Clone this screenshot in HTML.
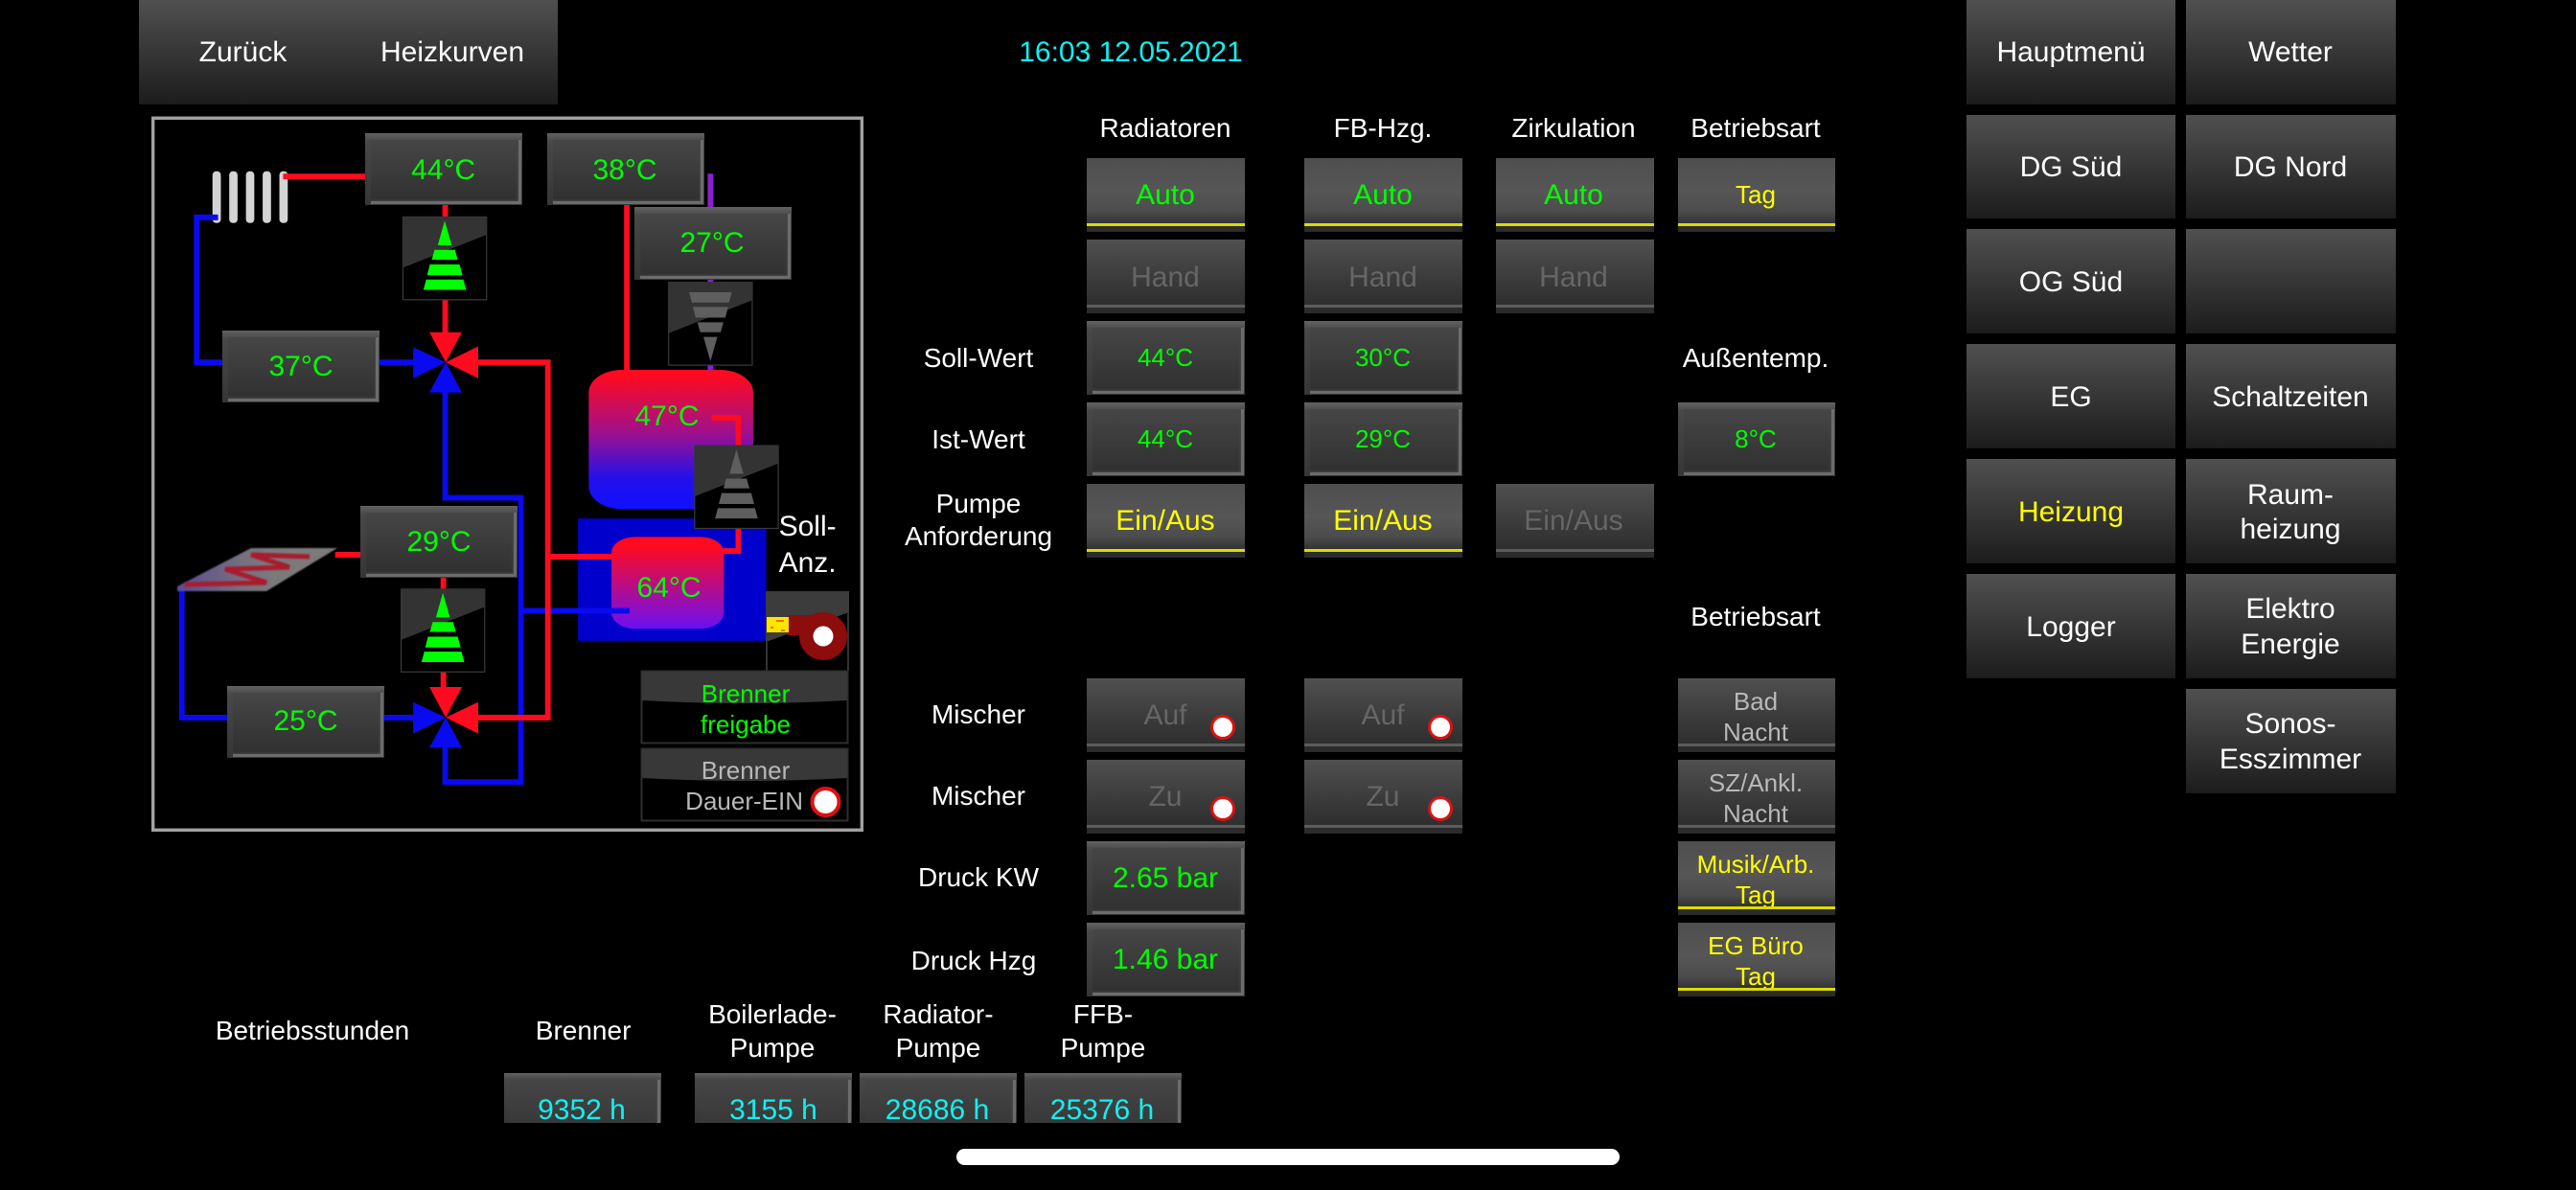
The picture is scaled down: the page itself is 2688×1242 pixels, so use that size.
<!DOCTYPE html>
<html lang="de">
<head>
<meta charset="utf-8">
<title>Heizung</title>
<style>
html,body{margin:0;padding:0;background:#000;width:2688px;height:1242px;overflow:hidden}
#p{position:relative;width:2688px;height:1242px;background:#000;overflow:hidden}
#p>div{position:absolute;box-sizing:border-box}
#p>svg{position:absolute;left:0;top:0}
.m{background:linear-gradient(#505050,#1c1c1c)}
.a,.i{width:165px;height:77px}
.a{background:linear-gradient(#4e4e4e 0,#565656 45%,#4c4c4c 72%,#343434 88%)}
.i{background:linear-gradient(#505050,#3c3c3c 50%,#2e2e2e 90%)}
.a:after,.i:after{content:"";position:absolute;left:0;right:0;top:69px;height:8px;background:#2b2b2b}
.a:before,.i:before{content:"";position:absolute;left:0;right:0;top:68px;height:3px;z-index:1}
.a:before{background:#dcdc00}
.i:before{background:#5c5c5c}
.w{background:linear-gradient(#626262,#484848 12%,#363636);overflow:hidden}
.w:before{content:"";position:absolute;left:6px;top:7px;right:1px;bottom:1px;background:linear-gradient(#464646,#303030);border-right:3px solid #6c6c6c;border-bottom:3px solid #6c6c6c;box-sizing:border-box;box-shadow:inset -1px -1px 2px #484848}
.s{width:164px;height:75px}
.c{width:165px;height:77px}
.h{width:164px;height:52px;top:1120px}
.h:before{bottom:-30px}
text{font-family:"Liberation Sans",sans-serif;font-size:30px;text-anchor:middle}
.t{font-size:28px;fill:#fff}
.g{fill:#0f0}.y{fill:#ff0}.n{fill:#666}.f{fill:#fff}.q{fill:#10f0f0}.b{fill:#b8b8b8}
.k{font-size:26px}
</style>
</head>
<body>
<div id="p">

<svg width="2688" height="1242" viewBox="0 0 2688 1242">
<defs>
<linearGradient id="t1" x1="0" y1="0" x2="0" y2="1">
<stop offset="0.04" stop-color="#ff0a1e"/><stop offset="0.45" stop-color="#a0108c"/><stop offset="0.78" stop-color="#2410ea"/><stop offset="1" stop-color="#1010ff"/>
</linearGradient>
<linearGradient id="t2" x1="0" y1="0" x2="0" y2="1">
<stop offset="0.1" stop-color="#ff0a1e"/><stop offset="1" stop-color="#6c10f4"/>
</linearGradient>
<linearGradient id="hp" x1="0" y1="0" x2="1" y2="0">
<stop offset="0.05" stop-color="#5f5090"/><stop offset="0.4" stop-color="#74707e"/><stop offset="0.6" stop-color="#7a7a7a"/>
</linearGradient>
<filter id="bl" x="-10%" y="-20%" width="120%" height="140%"><feGaussianBlur stdDeviation="0.8"/></filter>
<g id="cone">
<path d="M90 8L105 60H75Z"/>
<path d="M68 70H112L118 91H62Z"/>
<path d="M58 101H122L128 124H52Z"/>
<path d="M50 133H130L136 155H44Z"/>
</g>
<g id="box">
<rect x="0" y="0" width="180" height="176" fill="#000" stroke="#3a3a3a" stroke-width="2.5"/>
<path d="M0 0H180V38L0 108Z" fill="#333"/>
</g>
</defs>

<g transform="translate(150,110) scale(0.4847,0.4911)">
<rect x="20" y="27" width="1526" height="1513" fill="none" stroke="#a2a2a2" stroke-width="7"/>

<g fill="#d4d4d4">
<rect x="148" y="140" width="18" height="110" rx="8"/>
<rect x="184" y="140" width="18" height="110" rx="8"/>
<rect x="220" y="140" width="18" height="110" rx="8"/>
<rect x="256" y="140" width="18" height="110" rx="8"/>
<rect x="292" y="140" width="18" height="110" rx="8"/>
</g>

<rect x="935" y="878" width="405" height="260" fill="#0000cc"/>
<rect x="958" y="562" width="354" height="296" rx="72" ry="48" fill="url(#t1)"/>
<rect x="1007" y="917" width="242" height="195" rx="50" ry="34" fill="url(#t2)"/>

<g fill="none" stroke="#0a0af0" stroke-width="12">
<path d="M160 238H114V546H175"/>
<path d="M505 546H590"/>
<path d="M82 1025V1301H185"/>
<path d="M512 1301H590"/>
<path d="M649 600V834H812V1438H649V1355"/>
<path d="M812 1074H1046"/>
</g>
<g fill="none" stroke="#ff0a1e" stroke-width="12">
<path d="M300 151H480"/>
<path d="M649 210V240M649 410V490"/>
<path d="M710 546H870V1301H710"/>
<path d="M870 959H1010"/>
<path d="M1040 210V565"/>
<path d="M1222 664H1280V725M1280 895V947H1246"/>
<path d="M412 955H470"/>
<path d="M645 1000V1030M645 1200V1245"/>
</g>
<path d="M1220 145V220M1220 368V378M1220 550V563" fill="none" stroke="#8a1fd0" stroke-width="12"/>

<g fill="#ff0a1e">
<path d="M615 482H685L650 546Z"/>
<path d="M720 512V580L650 546Z"/>
<path d="M615 1236H685L650 1301Z"/>
<path d="M720 1268V1335L650 1301Z"/>
</g>
<g fill="#0a0af0">
<path d="M580 514V580L650 546Z"/>
<path d="M615 610H685L650 546Z"/>
<path d="M580 1268V1335L650 1301Z"/>
<path d="M615 1365H685L650 1301Z"/>
</g>

<use href="#box" x="558" y="237"/>
<use href="#cone" x="558" y="237" fill="#0f0"/>
<use href="#box" x="554" y="1028"/>
<use href="#cone" x="554" y="1028" fill="#0f0"/>
<use href="#box" x="1130" y="376"/>
<g transform="translate(1130,552) scale(1,-1)"><use href="#cone" fill="#5e5e5e"/></g>
<use href="#box" x="1186" y="723"/>
<use href="#cone" x="1186" y="723" fill="#5e5e5e"/>
</g>

<!-- Flachheizung -->
<path d="M185 612L262 572H352L278 617H185Z" fill="url(#hp)" filter="url(#bl)"/>
<path d="M193 610L278 608L235 594L302 592L262 579L323 581" fill="none" stroke="#a81f2e" stroke-width="5" filter="url(#bl)"/>

<!-- Brenner -->
<path d="M799 617H886V639L799 670Z" fill="#3c3c3c"/>
<path d="M800 670V700M885 639V700" stroke="#333" stroke-width="2"/>
<rect x="822" y="642" width="37" height="21" fill="#8d0c0c"/>
<circle cx="859" cy="664" r="25" fill="#8d0c0c"/>
<circle cx="859" cy="664" r="10.5" fill="#fff"/>
<rect x="800" y="644" width="23" height="16" fill="#ffe400"/>
<path d="M810 648h8M804 655h3M815 658h4" stroke="#e05010" stroke-width="1.500"/>

<!-- Brenner-Schaltflaechen -->
<rect x="669.500" y="700.500" width="215" height="75" fill="#000" stroke="#2e2e2e" stroke-width="2"/>
<path d="M670 701H884V731Q777 737 670 731Z" fill="#383838"/>
<rect x="669.500" y="781.500" width="215" height="75" fill="#000" stroke="#2e2e2e" stroke-width="2"/>
<path d="M670 782H884V812Q777 818 670 812Z" fill="#383838"/>
<circle cx="861.500" cy="837" r="14" fill="#fff" stroke="#dd1111" stroke-width="4"/>
</svg>

<!-- Top left -->
<div class="m" style="left:145px;top:0;width:437px;height:109px"></div>

<!-- Menu -->
<div class="m" style="left:2052px;top:0;width:218px;height:109px"></div>
<div class="m" style="left:2281px;top:0;width:219px;height:109px"></div>
<div class="m" style="left:2052px;top:120px;width:218px;height:108px"></div>
<div class="m" style="left:2281px;top:120px;width:219px;height:108px"></div>
<div class="m" style="left:2052px;top:239px;width:218px;height:109px"></div>
<div class="m" style="left:2281px;top:239px;width:219px;height:109px"></div>
<div class="m" style="left:2052px;top:359px;width:218px;height:109px"></div>
<div class="m" style="left:2281px;top:359px;width:219px;height:109px"></div>
<div class="m" style="left:2052px;top:479px;width:218px;height:109px"></div>
<div class="m" style="left:2281px;top:479px;width:219px;height:109px"></div>
<div class="m" style="left:2052px;top:599px;width:218px;height:109px"></div>
<div class="m" style="left:2281px;top:599px;width:219px;height:109px"></div>
<div class="m" style="left:2281px;top:719px;width:219px;height:109px"></div>

<!-- Diagram value widgets -->
<div class="w s" style="left:381px;top:139px"></div>
<div class="w s" style="left:571px;top:139px"></div>
<div class="w s" style="left:662px;top:216px;height:76px"></div>
<div class="w s" style="left:232px;top:345px"></div>
<div class="w s" style="left:376px;top:528px"></div>
<div class="w s" style="left:237px;top:716px"></div>

<!-- Middle columns -->
<div class="a" style="left:1134px;top:165px"></div>
<div class="a" style="left:1361px;top:165px"></div>
<div class="a" style="left:1561px;top:165px"></div>
<div class="a" style="left:1751px;top:165px;width:164px"></div>
<div class="i" style="left:1134px;top:250px"></div>
<div class="i" style="left:1361px;top:250px"></div>
<div class="i" style="left:1561px;top:250px"></div>
<div class="w c" style="left:1134px;top:335px"></div>
<div class="w c" style="left:1361px;top:335px"></div>
<div class="w c" style="left:1134px;top:420px"></div>
<div class="w c" style="left:1361px;top:420px"></div>
<div class="w c" style="left:1751px;top:420px;width:164px"></div>
<div class="a" style="left:1134px;top:505px"></div>
<div class="a" style="left:1361px;top:505px"></div>
<div class="i" style="left:1561px;top:505px"></div>
<div class="i" style="left:1134px;top:708px"></div>
<div class="i" style="left:1361px;top:708px"></div>
<div class="i" style="left:1134px;top:793px"></div>
<div class="i" style="left:1361px;top:793px"></div>
<div class="w c" style="left:1134px;top:878px"></div>
<div class="w c" style="left:1134px;top:963px"></div>
<div class="i" style="left:1751px;top:708px;width:164px"></div>
<div class="i" style="left:1751px;top:793px;width:164px"></div>
<div class="a" style="left:1751px;top:878px;width:164px"></div>
<div class="a" style="left:1751px;top:963px;width:164px"></div>

<!-- Hours -->
<div class="w h" style="left:526px"></div>
<div class="w h" style="left:725px"></div>
<div class="w h" style="left:897px"></div>
<div class="w h" style="left:1069px"></div>

<!-- Home bar -->
<div style="left:998px;top:1199px;width:692px;height:17px;background:#fff;border-radius:9px"></div>

<svg width="2688" height="1242" viewBox="0 0 2688 1242">
<g fill="#dd1111"><circle cx="1276" cy="759" r="13"/><circle cx="1503" cy="759" r="13"/><circle cx="1276" cy="844" r="13"/><circle cx="1503" cy="844" r="13"/></g>
<g fill="#fff"><circle cx="1276" cy="759" r="10"/><circle cx="1503" cy="759" r="10"/><circle cx="1276" cy="844" r="10"/><circle cx="1503" cy="844" r="10"/></g>

<text x="253.500" y="64" class="f">Zurück</text>
<text x="472" y="64" class="f">Heizkurven</text>
<text x="1180" y="64" class="q">16:03 12.05.2021</text>

<text x="2161" y="64" class="f">Hauptmenü</text>
<text x="2390" y="64" class="f">Wetter</text>
<text x="2161" y="184" class="f">DG Süd</text>
<text x="2390" y="184" class="f">DG Nord</text>
<text x="2161" y="304" class="f">OG Süd</text>
<text x="2161" y="424" class="f">EG</text>
<text x="2390" y="424" class="f">Schaltzeiten</text>
<text x="2161" y="544" class="y">Heizung</text>
<text x="2390" y="526" class="f">Raum-</text>
<text x="2390" y="562" class="f">heizung</text>
<text x="2161" y="664" class="f">Logger</text>
<text x="2390" y="645" class="f">Elektro</text>
<text x="2390" y="682" class="f">Energie</text>
<text x="2390" y="765" class="f">Sonos-</text>
<text x="2390" y="802" class="f">Esszimmer</text>

<text x="462.600" y="187" class="g">44°C</text>
<text x="652" y="187" class="g">38°C</text>
<text x="743" y="263" class="g">27°C</text>
<text x="314" y="392" class="g">37°C</text>
<text x="458" y="575" class="g">29°C</text>
<text x="319" y="762" class="g">25°C</text>
<text x="696" y="444" class="g">47°C</text>
<text x="698" y="623" class="g">64°C</text>
<text x="812.600" y="559" class="f" style="text-anchor:start">Soll-</text>
<text x="812.600" y="597" class="f" style="text-anchor:start">Anz.</text>
<text x="778" y="733" class="g k">Brenner</text>
<text x="778" y="765" class="g k">freigabe</text>
<text x="778" y="813" class="b k">Brenner</text>
<text x="838" y="845" class="b k" style="text-anchor:end">Dauer-EIN</text>

<text x="1216" y="143" class="t">Radiatoren</text>
<text x="1443" y="143" class="t">FB-Hzg.</text>
<text x="1642" y="143" class="t">Zirkulation</text>
<text x="1832" y="143" class="t">Betriebsart</text>
<text x="1216" y="213" class="g">Auto</text>
<text x="1443" y="213" class="g">Auto</text>
<text x="1642" y="213" class="g">Auto</text>
<text x="1832" y="212" class="y k">Tag</text>
<text x="1216" y="299" class="n">Hand</text>
<text x="1443" y="299" class="n">Hand</text>
<text x="1642" y="299" class="n">Hand</text>
<text x="1021" y="383" class="t">Soll-Wert</text>
<text x="1216" y="382" class="g k">44°C</text>
<text x="1443" y="382" class="g k">30°C</text>
<text x="1832" y="383" class="t">Außentemp.</text>
<text x="1021" y="468" class="t">Ist-Wert</text>
<text x="1216" y="467" class="g k">44°C</text>
<text x="1443" y="467" class="g k">29°C</text>
<text x="1832" y="467" class="g k">8°C</text>
<text x="1021" y="535" class="t">Pumpe</text>
<text x="1021" y="569" class="t">Anforderung</text>
<text x="1216" y="553" class="y">Ein/Aus</text>
<text x="1443" y="553" class="y">Ein/Aus</text>
<text x="1642" y="553" class="n">Ein/Aus</text>
<text x="1832" y="653" class="t">Betriebsart</text>

<text x="1021" y="755" class="t">Mischer</text>
<text x="1216" y="756" class="n">Auf</text>
<text x="1443" y="756" class="n">Auf</text>
<text x="1021" y="840" class="t">Mischer</text>
<text x="1216" y="841" class="n">Zu</text>
<text x="1443" y="841" class="n">Zu</text>
<text x="1021" y="925" class="t">Druck KW</text>
<text x="1216" y="926" class="g">2.65 bar</text>
<text x="1016" y="1012" class="t">Druck Hzg</text>
<text x="1216" y="1011" class="g">1.46 bar</text>

<text x="1832" y="741" class="b k">Bad</text>
<text x="1832" y="773" class="b k">Nacht</text>
<text x="1832" y="826" class="b k">SZ/Ankl.</text>
<text x="1832" y="858" class="b k">Nacht</text>
<text x="1832" y="911" class="y k">Musik/Arb.</text>
<text x="1832" y="943" class="y k">Tag</text>
<text x="1832" y="996" class="y k">EG Büro</text>
<text x="1832" y="1028" class="y k">Tag</text>

<text x="326" y="1085" class="t">Betriebsstunden</text>
<text x="608.600" y="1085" class="t">Brenner</text>
<text x="806" y="1068" class="t">Boilerlade-</text>
<text x="806" y="1103" class="t">Pumpe</text>
<text x="979" y="1068" class="t">Radiator-</text>
<text x="979" y="1103" class="t">Pumpe</text>
<text x="1151" y="1068" class="t">FFB-</text>
<text x="1151" y="1103" class="t">Pumpe</text>

<text x="607" y="1168" class="q">9352 h</text>
<text x="807" y="1168" class="q">3155 h</text>
<text x="978" y="1168" class="q">28686 h</text>
<text x="1150" y="1168" class="q">25376 h</text>
</svg>
</div>
</body>
</html>
